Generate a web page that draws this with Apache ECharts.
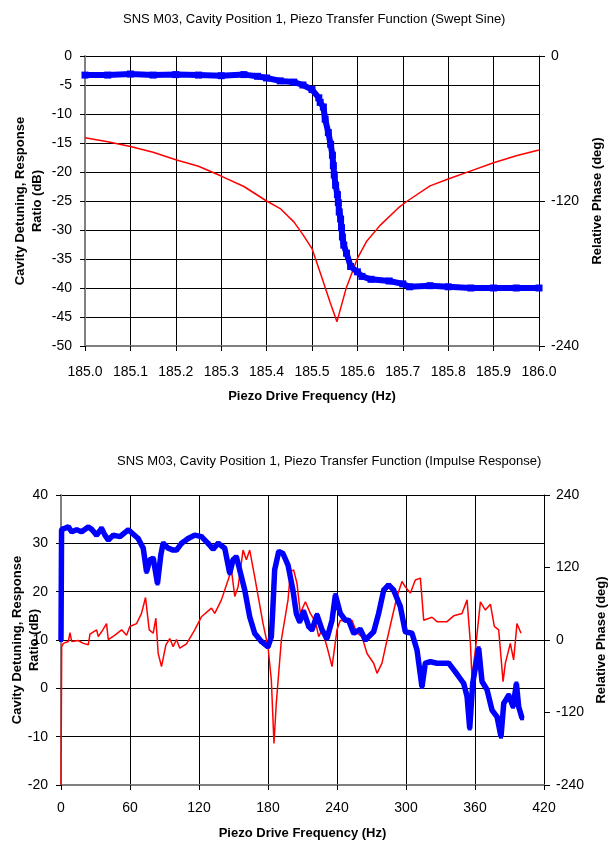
<!DOCTYPE html>
<html>
<head>
<meta charset="utf-8">
<script src="https://cdn.jsdelivr.net/npm/echarts@6/dist/echarts.min.js"></script>
<style>
  html, body { margin: 0; padding: 0; background: #fff; }
  #mainChart { width: 609px; height: 842px; }
</style>
</head>
<body>
<div id="mainChart"></div>
<script>
// swept sine: [frequency Hz, response dB]
var sweptRatio = [
    [185.00, -14.1], [185.05, -14.8], [185.10, -15.6], [185.15, -16.6], [185.20, -17.9],
    [185.25, -19.0], [185.30, -20.7], [185.35, -22.5], [185.40, -25.0], [185.43, -26.3],
    [185.46, -28.6], [185.48, -30.8], [185.50, -33.2], [185.52, -37.8], [185.54, -42.5],
    [185.555, -45.8], [185.575, -40.1], [185.60, -34.9], [185.62, -32.0], [185.65, -29.2],
    [185.69, -26.2], [185.71, -25.0], [185.76, -22.4], [185.80, -21.2], [185.85, -19.8],
    [185.90, -18.4], [185.95, -17.2], [186.00, -16.2]
];
// swept sine: [frequency Hz, phase deg]
var sweptPhase = [
    [185.00, -15.8], [185.05, -15.8], [185.10, -14.9], [185.15, -15.8], [185.20, -15.4],
    [185.25, -15.8], [185.30, -16.3], [185.35, -15.4], [185.38, -16.8], [185.40, -18.2],
    [185.43, -20.6], [185.46, -21.6], [185.48, -24.0], [185.50, -27.8], [185.515, -34.6],
    [185.518, -38.4], [185.525, -42.2], [185.529, -52.3], [185.536, -63.4], [185.541, -73.0],
    [185.545, -82.1], [185.547, -90.7], [185.549, -98.4], [185.552, -107.0], [185.556, -114.7],
    [185.558, -121.4], [185.560, -129.1], [185.563, -134.9], [185.565, -142.1], [185.567, -149.8],
    [185.570, -156.5], [185.576, -163.2], [185.585, -174.2], [185.60, -178.6], [185.61, -182.4],
    [185.63, -184.8], [185.67, -186.2], [185.70, -188.6], [185.715, -191.0], [185.76, -190.1],
    [185.80, -191.0], [185.85, -192.0], [185.90, -192.0], [185.95, -192.0], [186.00, -192.0]
];
// impulse response: [frequency Hz, response dB]
var impulseRatio = [
    [0, -20], [0.6, 8.6], [2, 9.3], [6.4, 9.7], [7.8, 11.5], [9.3, 9.7], [15, 9.9], [19.4, 9.3],
    [23.7, 9.0], [25.2, 11.2], [31, 12.1], [32.4, 10.7], [35.3, 11.7], [39.6, 13.4], [41.1, 10.1],
    [46.9, 11.0], [52.7, 12.1], [57, 11.0], [59.9, 12.8], [65.7, 13.4], [70, 15.5], [73.5, 18.8],
    [76.7, 12.1], [80.2, 11.4], [82.5, 14.5], [84.5, 7.2], [87.4, 4.5], [91.2, 9.0], [94.6, 10.3],
    [97.5, 8.6], [100.4, 10.1], [103.3, 8.3], [109.1, 9.2], [116.3, 12.1], [122.1, 14.8],
    [130.8, 16.6], [133.7, 15.5], [139.5, 18.3], [145.3, 22.4], [148.2, 24.5], [151.1, 19.0],
    [154, 21.0], [158.3, 28.6], [161.2, 26.6], [164.1, 28.6], [168.4, 23.1], [175.7, 13.4],
    [180, 8.6], [182.9, 1.7], [185.2, -11.4], [187.2, -3.1], [191.6, 10.0], [197.4, 18.3],
    [198.8, 22.1], [200.5, 24.3], [202.3, 24.5], [205.2, 21.7], [208.1, 15.5], [212.5, 17.9],
    [216.8, 15.5], [221.2, 13.8], [224.1, 10.7], [227, 12.1], [231.3, 8.6], [235.7, 4.5],
    [240, 12.1], [242.9, 14.1], [248.7, 13.8], [253, 14.1], [257.4, 11.4], [261.7, 10.7],
    [266.1, 7.2], [271.9, 5.2], [274.8, 3.1], [279.1, 5.2], [283.5, 10.0], [287.8, 14.5],
    [292.2, 19.0], [296.5, 22.1], [299.4, 21.0], [303.8, 19.7], [308.1, 22.4], [312.5, 22.8],
    [315.4, 14.1], [322.6, 14.7], [327, 13.8], [335.7, 13.8], [341.5, 15.0], [348.7, 15.5],
    [353.1, 18.3], [356, 9.3], [357.4, 2.1], [360.3, 7.9], [364.7, 17.9], [369, 16.2],
    [373.4, 17.4], [376.8, 12.8], [380.6, 12.1], [384.4, 1.4], [386.4, 5.2], [390.7, 9.3],
    [393.6, 5.9], [396.5, 13.4], [400, 11.4]
];
// impulse response: [frequency Hz, phase deg]
var impulsePhase = [
    [0, 0], [0.5, 182.4], [2, 184.8], [6.4, 187.2], [9.3, 179.2], [13.6, 182.4], [17.9, 179.2],
    [23.7, 187.2], [26.6, 183.2], [31, 173.6], [35.3, 184.8], [38.2, 173.6], [41.1, 165.6],
    [45.4, 173.6], [51.2, 171.2], [58.5, 182.4], [67.1, 168], [71.5, 152], [74.4, 112.8],
    [77.3, 132.8], [80.2, 135.2], [83.9, 93.6], [86.8, 140.8], [88.8, 160], [93.2, 152],
    [97.5, 148.8], [100.4, 148.8], [104.8, 160], [110.6, 168], [116.3, 173.6], [122.1, 171.2],
    [127.9, 160], [132.3, 150.4], [136.6, 160], [142.4, 152], [146.7, 110.4], [149.6, 132.8],
    [152.5, 137.6], [155.4, 116], [159.8, 82.4], [164.1, 38.4], [168.4, 11.2], [174.2, -2.4],
    [180, -11.2], [182.9, 5.6], [184.3, 55.2], [185.8, 116], [189.3, 146.4], [193, 143.2],
    [197.4, 124], [201.7, 82.4], [204.6, 44], [207.5, 30.4], [211, 47.2], [215.4, 22.4],
    [218.3, 16.8], [222.6, 41.6], [227, 16.8], [231.3, 2.4], [235.7, 32.8], [238.6, 74.4],
    [242.9, 44], [247.2, 32.8], [250.1, 32.8], [254.5, 11.2], [260.3, 17.6], [264.6, 0],
    [271.9, 13.6], [276.2, 44], [280.6, 82.4], [284.9, 91.2], [289.3, 82.4], [295.1, 55.2],
    [299.4, 13.6], [305.2, 11.2], [309.6, -16.8], [313.9, -77.6], [316.8, -38.4], [321.2, -36],
    [327, -38.4], [337.1, -38.4], [342.9, -52.8], [350.2, -72], [353.1, -93.6], [355.4, -146.4],
    [358, -72], [363.2, -13.6], [366.1, -68.8], [370.5, -82.4], [374.8, -116], [379.2, -127.2],
    [382.6, -160], [385, -104.8], [389.3, -91.2], [393.1, -110.4], [396, -72], [398, -110.4],
    [400.9, -129.6]
];

var titles = [
    "SNS M03, Cavity Position 1, Piezo Transfer Function (Swept Sine)",
    "SNS M03, Cavity Position 1, Piezo Transfer Function (Impulse Response)"
];
var xName = "Piezo Drive Frequency (Hz)";
var leftName = "Cavity Detuning, Response\nRatio (dB)";
var rightName = "Relative Phase (deg)";

var font = "'Liberation Sans', Arial, sans-serif";

function xAxisCfg(grid, min, max, interval, digits, margin, gap) {
    return {
        gridIndex: grid, type: "value", min: min, max: max, interval: interval,
        name: xName, nameLocation: "middle", nameGap: gap,
        nameTextStyle: { fontFamily: font, fontSize: 13, fontWeight: "bold", color: "#000" },
        axisLine: { onZero: false, lineStyle: { color: "#808080", width: 2 } },
        axisTick: { show: true, inside: false, length: 5, lineStyle: { color: "#000" } },
        axisLabel: {
            margin: margin, fontFamily: font, fontSize: 14, color: "#000",
            formatter: function (v) { return v.toFixed(digits); }
        },
        splitLine: { show: true, lineStyle: { color: "#000", width: 1 } }
    };
}

function leftAxisCfg(grid, min, max, interval, gap) {
    return {
        gridIndex: grid, type: "value", position: "left", min: min, max: max, interval: interval,
        name: leftName, nameLocation: "middle", nameGap: gap, nameRotate: 90, nameMoveOverlap: false,
        nameTextStyle: { fontFamily: font, fontSize: 13, fontWeight: "bold", color: "#000", lineHeight: 17 },
        axisLine: { show: true, onZero: false, lineStyle: { color: "#808080", width: 2 } },
        axisTick: { show: true, length: 5, lineStyle: { color: "#000" } },
        axisLabel: { margin: 13, fontFamily: font, fontSize: 14, color: "#000" },
        splitLine: { show: true, lineStyle: { color: "#000", width: 1 } }
    };
}

function rightAxisCfg(grid, min, max, interval, gap) {
    return {
        gridIndex: grid, type: "value", position: "right", min: min, max: max, interval: interval,
        name: rightName, nameLocation: "middle", nameGap: gap, nameRotate: 90,
        nameTextStyle: { fontFamily: font, fontSize: 13, fontWeight: "bold", color: "#000" },
        axisLine: { show: true, onZero: false, lineStyle: { color: "#000", width: 1 } },
        axisTick: { show: true, length: 6, lineStyle: { color: "#000" } },
        axisLabel: { margin: 12, fontFamily: font, fontSize: 14, color: "#000" },
        splitLine: { show: false }
    };
}

var myChart = echarts.init(document.getElementById("mainChart"), null, { renderer: "canvas" });

var option = {
    animation: false,
    backgroundColor: "#fff",
    title: [{
        text: titles[0], left: 118, top: 8,
        textStyle: { fontFamily: font, fontSize: 13, fontWeight: "normal", color: "#000" }
    }, {
        text: titles[1], left: 112, top: 450,
        textStyle: { fontFamily: font, fontSize: 13, fontWeight: "normal", color: "#000" }
    }],
    grid: [
        { left: 85, top: 56, width: 454, height: 290, containLabel: false, outerBoundsMode: "none" },
        { left: 61, top: 495, width: 483, height: 290, containLabel: false, outerBoundsMode: "none" }
    ],
    xAxis: [
        xAxisCfg(0, 185.0, 186.0, 0.1, 1, 19, 44),
        xAxisCfg(1, 0, 420, 60, 0, 16, 42)
    ],
    yAxis: [
        leftAxisCfg(0, -50, 0, 5, 39),
        rightAxisCfg(0, -240, 0, 120, 52),
        leftAxisCfg(1, -20, 40, 10, 18),
        rightAxisCfg(1, -240, 240, 120, 45)
    ],
    series: [{
        type: "line", xAxisIndex: 0, yAxisIndex: 0, data: sweptRatio,
        showSymbol: false, lineStyle: { color: "#ff0000", width: 1.5 }, z: 3
    }, {
        type: "line", xAxisIndex: 0, yAxisIndex: 1, data: sweptPhase,
        symbol: "rect", symbolSize: 7, showAllSymbol: true,
        itemStyle: { color: "#0000ff" }, lineStyle: { color: "#0000ff", width: 6 }, z: 4
    }, {
        type: "line", xAxisIndex: 1, yAxisIndex: 2, data: impulseRatio,
        showSymbol: false, lineStyle: { color: "#ff0000", width: 1.5 }, z: 3
    }, {
        type: "line", xAxisIndex: 1, yAxisIndex: 3, data: impulsePhase,
        symbol: "rect", symbolSize: 4, showAllSymbol: true,
        itemStyle: { color: "#0000ff" }, lineStyle: { color: "#0000ff", width: 5.5 }, z: 4
    }]
};

myChart.setOption(option);
</script>
</body>
</html>
